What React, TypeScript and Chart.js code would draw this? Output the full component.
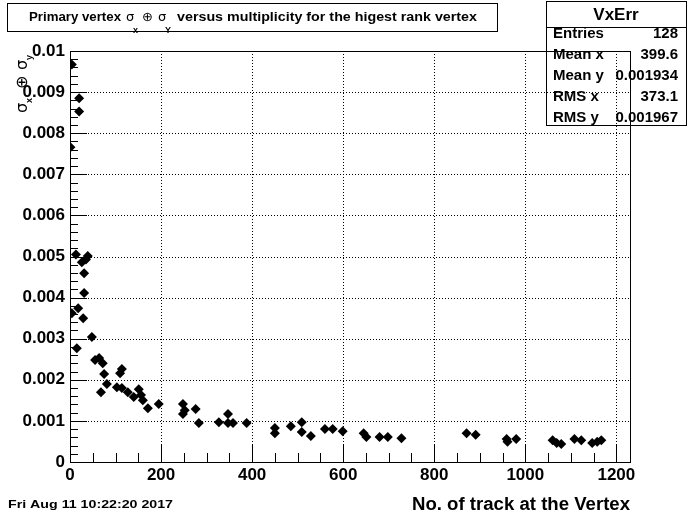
import React, { useEffect, useRef } from "react";
import { Chart, registerables } from "chart.js";

Chart.register(...registerables);

// Number of tracks at the vertex
const tracks: number[] = [
  4, 20, 20, 1, 13, 39, 26, 35, 31, 31, 18, 4, 29, 48, 15,
  55, 64, 72, 75, 110, 114, 81, 68, 103, 114, 127, 140, 151, 156, 160, 171, 195,
  248, 252, 248, 276, 283, 327, 347, 347, 358, 388,
  450, 450, 485, 509, 509, 529, 560, 577, 599, 645, 651, 680, 698, 728,
  871, 891, 959, 961, 980, 1060, 1069, 1079, 1108, 1123, 1147, 1158, 1167,
];
// sigma_x (+) sigma_y
const sigma: number[] = [
  0.00967, 0.00885, 0.00853, 0.00766, 0.00505, 0.00501, 0.00486, 0.00493, 0.00459, 0.00411, 0.00374, 0.00362, 0.0035, 0.00304, 0.00277,
  0.00248, 0.00253, 0.0024, 0.00214, 0.00216, 0.00226, 0.0019, 0.0017, 0.00182, 0.0018, 0.0017, 0.00158, 0.00177, 0.00163, 0.0015, 0.00131, 0.00141,
  0.00141, 0.00126, 0.00117, 0.00129, 0.00095, 0.00097, 0.00117, 0.00095, 0.00095, 0.00095,
  0.00083, 0.0007, 0.00087, 0.00097, 0.00073, 0.00063, 0.0008, 0.0008, 0.00075, 0.0007, 0.00061, 0.00061, 0.00061, 0.00058,
  0.0007, 0.00066, 0.00056, 0.00049, 0.00056, 0.00053, 0.00046, 0.00044, 0.00056, 0.00053, 0.00046, 0.00049, 0.00053,
];

const xTicks: number[] = [0, 200, 400, 600, 800, 1000, 1200];
const yTicks: number[] = [0, 0.001, 0.002, 0.003, 0.004, 0.005, 0.006, 0.007, 0.008, 0.009, 0.01];

const titleLeft = "Primary vertex";
const titleRight = "versus multiplicity for the higest rank vertex";
const xTitle = "No. of track at the Vertex";
const dateText = "Fri Aug 11 10:22:20 2017";
const statsName = "VxErr";
const statsLabels: string[] = ["Entries", "Mean x", "Mean y", "RMS x", "RMS y"];
const statsValues: string[] = ["128", "399.6", "0.001934", "373.1", "0.001967"];

const X_MAX = 1230;
const Y_MAX = 0.01;

function fitText(ctx: CanvasRenderingContext2D, text: string, x: number, y: number, font: string, width: number, align: "left" | "right") {
  ctx.save();
  ctx.font = font;
  const w = ctx.measureText(text).width;
  const s = width / w;
  ctx.translate(x, y);
  ctx.scale(s, 1);
  ctx.textAlign = align;
  ctx.textBaseline = "alphabetic";
  ctx.fillText(text, 0, 0);
  ctx.restore();
}

const decor = {
  id: "decor",
  beforeDraw(chart: any) {
    const ctx: CanvasRenderingContext2D = chart.ctx;
    ctx.save();
    ctx.fillStyle = "#fff";
    ctx.fillRect(0, 0, chart.width, chart.height);
    ctx.fillStyle = "#000";
    ctx.strokeStyle = "#000";
    ctx.lineWidth = 1;
    // title box
    ctx.strokeRect(7.5, 3.5, 490, 28);
    fitText(ctx, titleLeft, 29, 21, "bold 13px 'Liberation Sans'", 92, "left");
    ctx.font = "13px 'DejaVu Sans'";
    ctx.textAlign = "left";
    ctx.fillText("σ", 126, 21);
    ctx.fillText("⊕", 142, 21);
    ctx.fillText("σ", 158, 21);
    ctx.font = "bold 9px 'Liberation Sans'";
    ctx.fillText("x", 133, 33);
    ctx.fillText("Y", 165, 33);
    fitText(ctx, titleRight, 177, 21, "bold 13px 'Liberation Sans'", 300, "left");
    // stats box
    ctx.fillStyle = "#fff";
    ctx.fillRect(546, 1, 140, 125);
    ctx.fillStyle = "#000";
    ctx.strokeRect(546.5, 1.5, 140, 124);
    ctx.beginPath();
    ctx.moveTo(546, 27.5);
    ctx.lineTo(687, 27.5);
    ctx.stroke();
    ctx.font = "bold 17px 'Liberation Sans'";
    ctx.textAlign = "center";
    ctx.fillText(statsName, 616, 20);
    const base = [38, 59, 80, 101, 122];
    statsLabels.forEach((l, i) => {
      ctx.font = "bold 15px 'Liberation Sans'";
      ctx.textAlign = "left";
      ctx.fillText(l, 553, base[i]);
      ctx.textAlign = "right";
      ctx.fillText(statsValues[i], 678, base[i]);
    });
    ctx.restore();
  },
  beforeDatasetsDraw(chart: any) {
    const ctx: CanvasRenderingContext2D = chart.ctx;
    const xs = chart.scales.x;
    const ys = chart.scales.y;
    const a = chart.chartArea;
    ctx.save();
    ctx.strokeStyle = "#000";
    ctx.lineWidth = 1;
    // dotted grid
    ctx.setLineDash([1, 2]);
    ctx.beginPath();
    xTicks.slice(1).forEach((v) => {
      const px = Math.round(xs.getPixelForValue(v)) + 0.5;
      ctx.moveTo(px, a.top);
      ctx.lineTo(px, a.bottom);
    });
    yTicks.slice(1, -1).forEach((v) => {
      const py = Math.round(ys.getPixelForValue(v)) + 0.5;
      ctx.moveTo(a.left, py);
      ctx.lineTo(a.right, py);
    });
    ctx.stroke();
    ctx.setLineDash([]);
    // frame
    ctx.strokeRect(Math.round(a.left) + 0.5, Math.round(a.top) + 0.5, Math.round(a.right - a.left), Math.round(a.bottom - a.top));
    // ticks
    ctx.beginPath();
    for (let i = 0; i <= 50; i++) {
      const py = Math.round(ys.getPixelForValue(i * 0.0002)) + 0.5;
      const len = i % 5 === 0 ? 17 : 8;
      ctx.moveTo(a.left, py);
      ctx.lineTo(a.left + len, py);
    }
    for (let i = 0; i * 50 <= X_MAX; i++) {
      const px = Math.round(xs.getPixelForValue(i * 50)) + 0.5;
      const len = i % 4 === 0 ? 17 : 9;
      ctx.moveTo(px, a.bottom);
      ctx.lineTo(px, a.bottom - len);
    }
    ctx.stroke();
    ctx.restore();
  },
  afterDraw(chart: any) {
    const ctx: CanvasRenderingContext2D = chart.ctx;
    ctx.save();
    ctx.fillStyle = "#000";
    fitText(ctx, xTitle, 630, 510, "bold 18px 'Liberation Sans'", 218, "right");
    fitText(ctx, dateText, 8, 508, "bold 11px 'Liberation Sans'", 165, "left");
    // y title, rotated
    ctx.translate(27, 113);
    ctx.rotate(-Math.PI / 2);
    ctx.textAlign = "left";
    ctx.font = "16px 'DejaVu Sans'";
    ctx.fillText("σ", 0, 0);
    ctx.fillText("⊕", 24, 0);
    ctx.fillText("σ", 43, 0);
    ctx.font = "bold 9px 'Liberation Sans'";
    ctx.fillText("x", 10, 5);
    ctx.fillText("y", 53, 5);
    ctx.restore();
  },
};

export default function App() {
  const ref = useRef<HTMLCanvasElement | null>(null);
  useEffect(() => {
    if (!ref.current) return;
    const tickFont = { family: "'Liberation Sans'", size: 17, weight: "bold" as const };
    const chart = new Chart(ref.current, {
      type: "scatter",
      data: {
        datasets: [
          {
            data: tracks.map((x, i) => ({ x, y: sigma[i] })),
            pointStyle: "rectRot",
            pointRadius: 5,
            pointHoverRadius: 5,
            backgroundColor: "#000",
            borderColor: "#000",
            borderWidth: 0,
          },
        ],
      },
      options: {
        responsive: false,
        animation: false,
        devicePixelRatio: 1,
        layout: { padding: { left: 0, right: 70, top: 51, bottom: 0 } },
        plugins: { legend: { display: false }, tooltip: { enabled: false } },
        scales: {
          x: {
            type: "linear",
            min: 0,
            max: X_MAX,
            afterFit: (s: any) => {
              s.height = 52;
            },
            afterBuildTicks: (s: any) => {
              s.ticks = xTicks.map((v) => ({ value: v }));
            },
            grid: { display: false, drawTicks: false },
            border: { display: false },
            ticks: {
              color: "#000",
              font: tickFont,
              padding: 3,
              maxRotation: 0,
              autoSkip: false,
              callback: (v: any) => String(v),
            },
          },
          y: {
            type: "linear",
            min: 0,
            max: Y_MAX,
            afterFit: (s: any) => {
              s.width = 70;
            },
            afterBuildTicks: (s: any) => {
              s.ticks = yTicks.map((v) => ({ value: v }));
            },
            grid: { display: false, drawTicks: false },
            border: { display: false },
            ticks: {
              color: "#000",
              font: tickFont,
              padding: 5,
              autoSkip: false,
              callback: (v: any) => (Number(v) === 0 ? "0" : String(+Number(v).toFixed(3))),
            },
          },
        },
      },
      plugins: [decor],
    });
    return () => chart.destroy();
  }, []);
  return (
    <div style={{ position: "absolute", left: 0, top: 0, width: 700, height: 514, background: "#fff" }}>
      <canvas ref={ref} width={700} height={514} style={{ display: "block" }} />
    </div>
  );
}
